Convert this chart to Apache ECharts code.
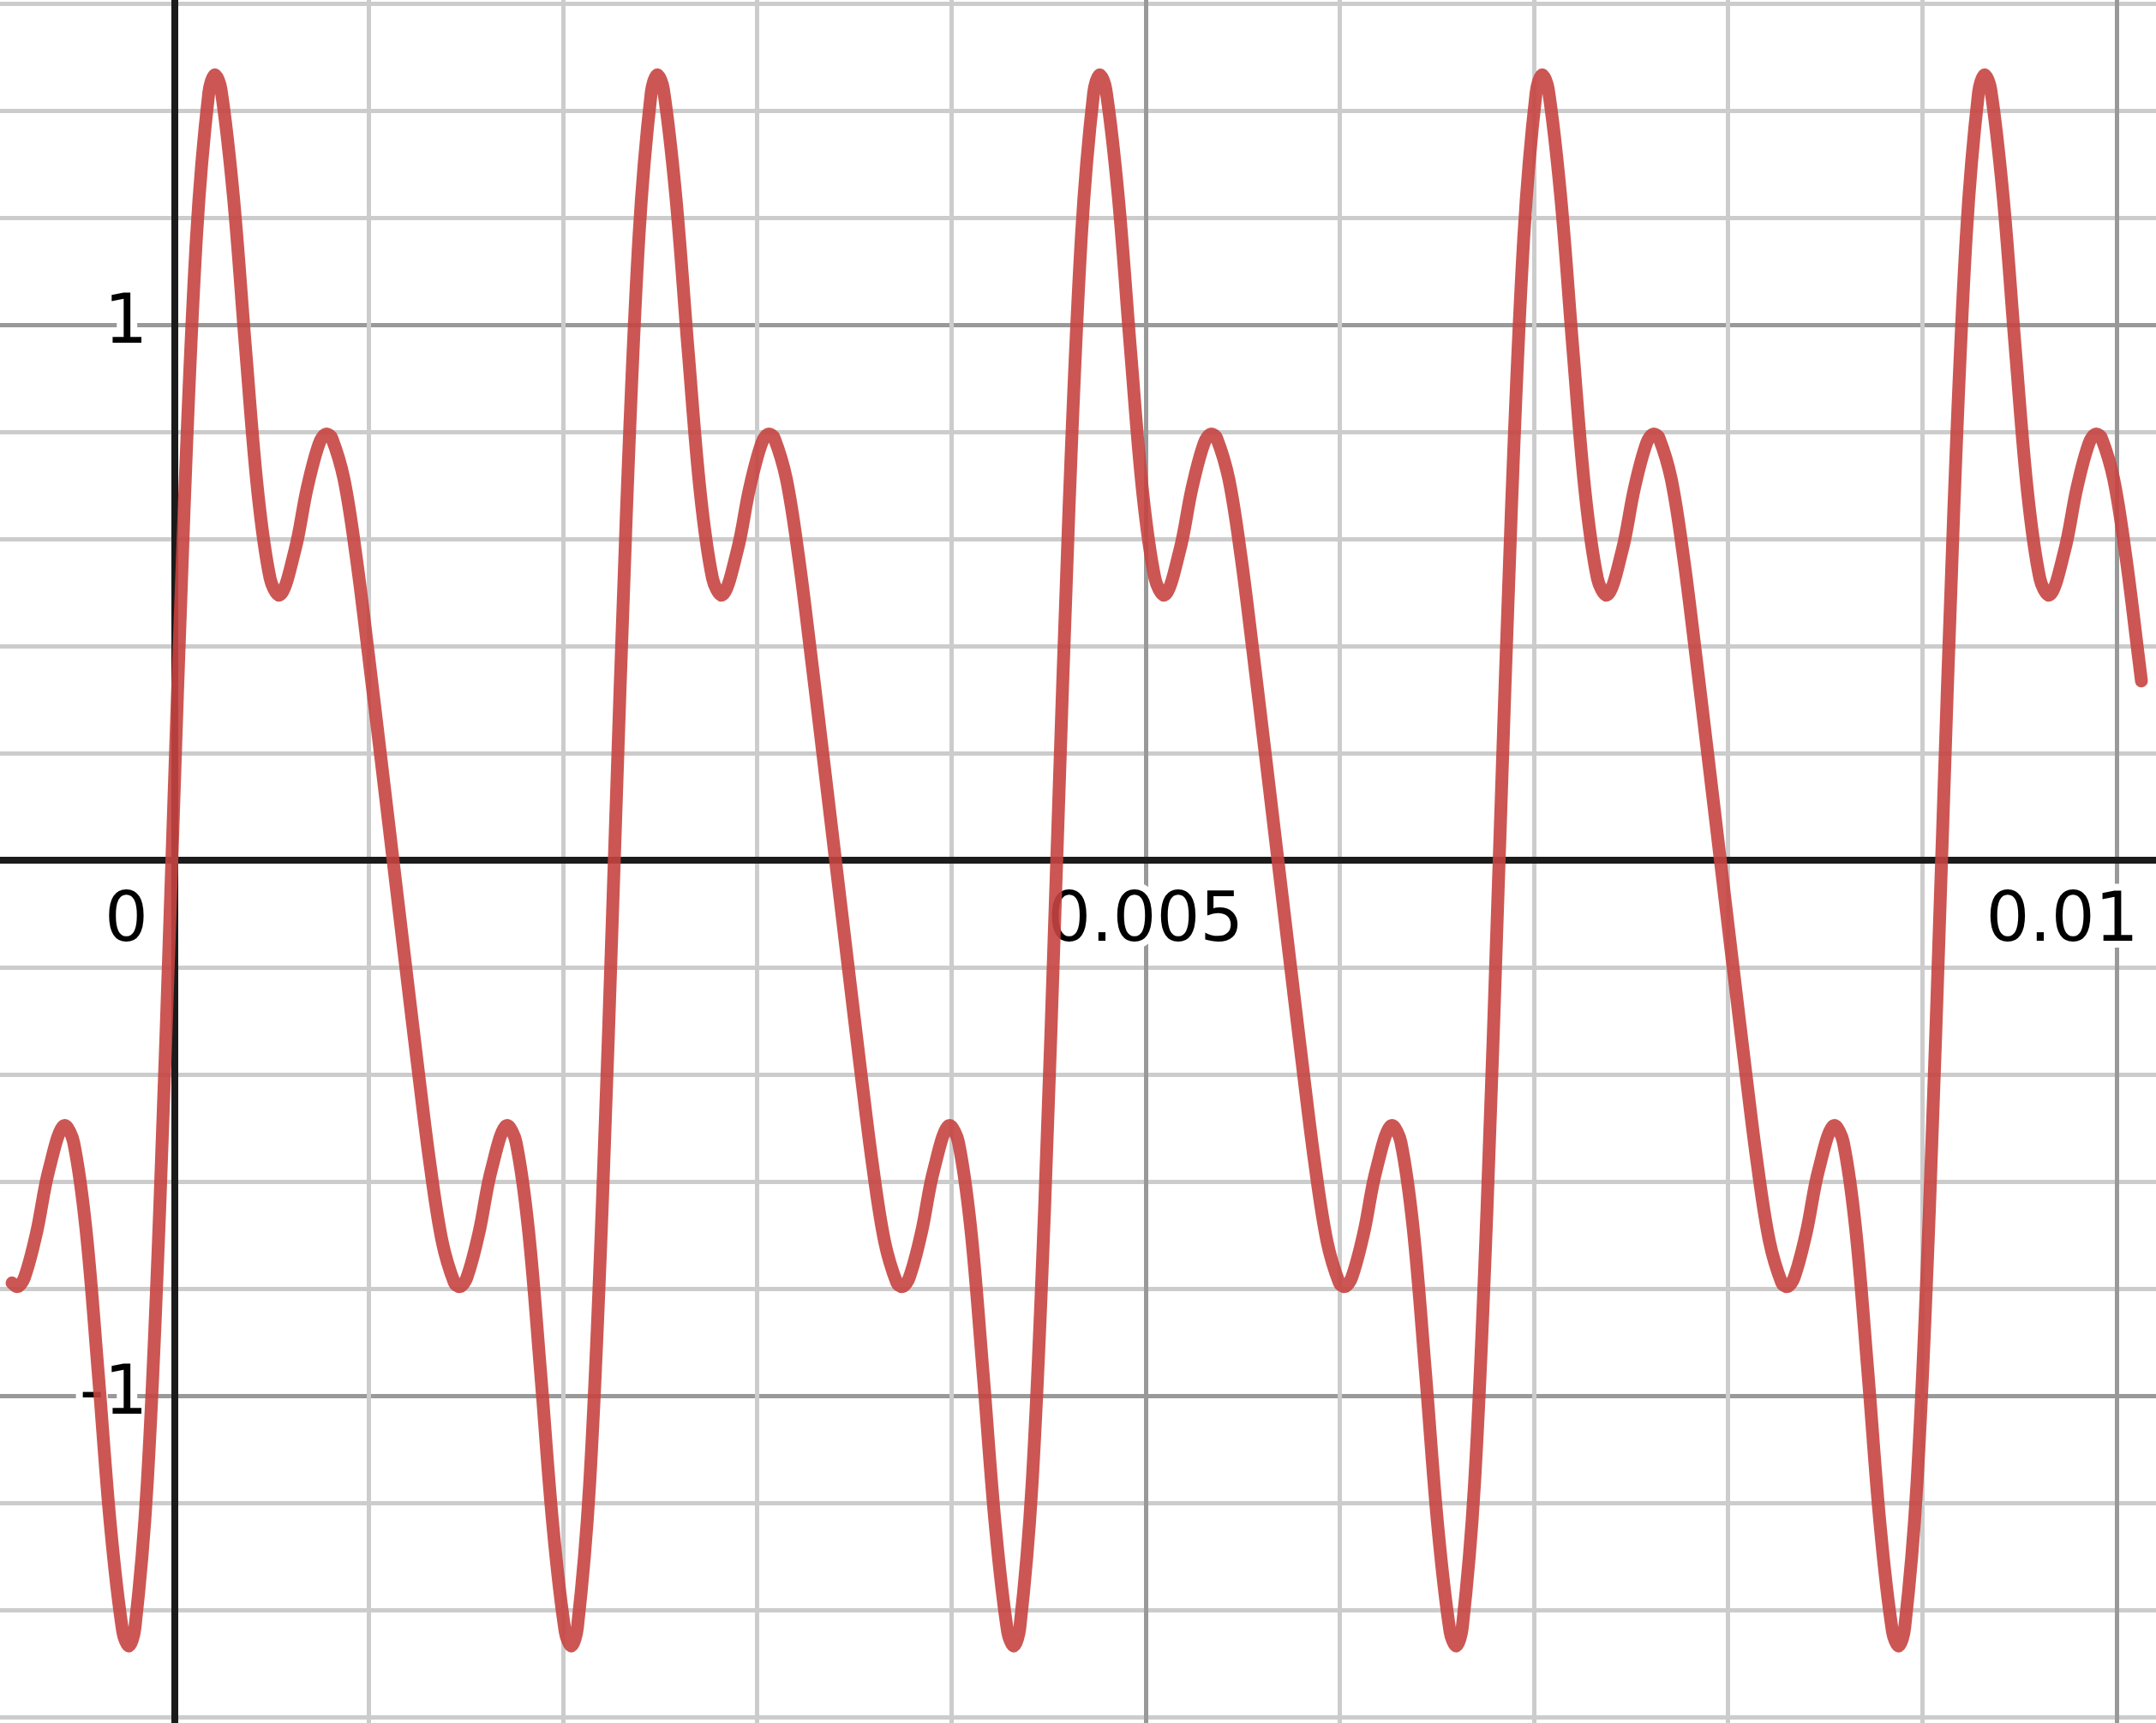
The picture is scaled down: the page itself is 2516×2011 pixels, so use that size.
<!DOCTYPE html>
<html>
<head>
<meta charset="utf-8">
<script src="https://cdn.jsdelivr.net/npm/echarts@6/dist/echarts.min.js"></script>
<style>html,body{margin:0;padding:0;background:#fff;}#c{width:2516px;height:2011px;}</style>
</head>
<body>
<div id="c"></div>
<script>
// Curve samples (time in seconds, amplitude)
const timeSec = [
  -0.000836, -0.000810, -0.000772, -0.000709, -0.000646, -0.000563, -0.000519, -0.000456,
  -0.000393, -0.000329, -0.000266, -0.000234, -0.000203, -0.000140, -0.000076,
  -0.000013, 0.000050, 0.000114, 0.000177, 0.000209, 0.000240, 0.000303, 0.000367, 0.000430, 0.000493,
  0.000538, 0.000620, 0.000683, 0.000746, 0.000784, 0.000810, 0.000873, 0.000936, 0.000999, 0.001063,
  0.001126, 0.001189, 0.001253, 0.001316, 0.001379, 0.001442, 0.001468, 0.001506, 0.001569, 0.001632,
  0.001715, 0.001759, 0.001822, 0.001885, 0.001949, 0.002012, 0.002044, 0.002075, 0.002138, 0.002202,
  0.002265, 0.002328, 0.002392, 0.002455, 0.002487, 0.002518, 0.002581, 0.002645, 0.002708, 0.002771,
  0.002816, 0.002898, 0.002961, 0.003024, 0.003062, 0.003088, 0.003151, 0.003214, 0.003277, 0.003341,
  0.003404, 0.003467, 0.003531, 0.003594, 0.003657, 0.003720, 0.003746, 0.003784, 0.003847, 0.003910,
  0.003993, 0.004037, 0.004100, 0.004163, 0.004227, 0.004290, 0.004322, 0.004353, 0.004416, 0.004480,
  0.004543, 0.004606, 0.004670, 0.004733, 0.004765, 0.004796, 0.004859, 0.004923, 0.004986, 0.005049,
  0.005094, 0.005176, 0.005239, 0.005302, 0.005340, 0.005366, 0.005429, 0.005492, 0.005555, 0.005619,
  0.005682, 0.005745, 0.005809, 0.005872, 0.005935, 0.005998, 0.006024, 0.006062, 0.006125, 0.006188,
  0.006271, 0.006315, 0.006378, 0.006441, 0.006505, 0.006568, 0.006600, 0.006631, 0.006694, 0.006758,
  0.006821, 0.006884, 0.006948, 0.007011, 0.007043, 0.007074, 0.007137, 0.007201, 0.007264, 0.007327,
  0.007372, 0.007454, 0.007517, 0.007580, 0.007618, 0.007644, 0.007707, 0.007770, 0.007833, 0.007897,
  0.007960, 0.008023, 0.008087, 0.008150, 0.008213, 0.008276, 0.008302, 0.008340, 0.008403, 0.008466,
  0.008549, 0.008593, 0.008656, 0.008719, 0.008783, 0.008846, 0.008878, 0.008909, 0.008972, 0.009036,
  0.009099, 0.009162, 0.009226, 0.009289, 0.009321, 0.009352, 0.009415, 0.009479, 0.009542, 0.009605,
  0.009650, 0.009732, 0.009795, 0.009858, 0.009896, 0.009922, 0.009985, 0.010048, 0.010111, 0.010128
];
const amplitude = [
  -0.789, -0.796, -0.779, -0.694, -0.578, -0.495, -0.526, -0.686,
  -0.953, -1.243, -1.440, -1.467, -1.433, -1.165, -0.655,
  0, 0.655, 1.165, 1.433, 1.467, 1.440, 1.243, 0.953, 0.686, 0.526,
  0.495, 0.578, 0.694, 0.779, 0.796, 0.789, 0.712, 0.567, 0.385, 0.192,
  0, -0.192, -0.385, -0.567, -0.712, -0.789, -0.796, -0.779, -0.694, -0.578,
  -0.495, -0.526, -0.686, -0.953, -1.243, -1.440, -1.467, -1.433, -1.165, -0.655,
  0, 0.655, 1.165, 1.433, 1.467, 1.440, 1.243, 0.953, 0.686, 0.526,
  0.495, 0.578, 0.694, 0.779, 0.796, 0.789, 0.712, 0.567, 0.385, 0.192,
  0, -0.192, -0.385, -0.567, -0.712, -0.789, -0.796, -0.779, -0.694, -0.578,
  -0.495, -0.526, -0.686, -0.953, -1.243, -1.440, -1.467, -1.433, -1.165, -0.655,
  0, 0.655, 1.165, 1.433, 1.467, 1.440, 1.243, 0.953, 0.686, 0.526,
  0.495, 0.578, 0.694, 0.779, 0.796, 0.789, 0.712, 0.567, 0.385, 0.192,
  0, -0.192, -0.385, -0.567, -0.712, -0.789, -0.796, -0.779, -0.694, -0.578,
  -0.495, -0.526, -0.686, -0.953, -1.243, -1.440, -1.467, -1.433, -1.165, -0.655,
  0, 0.655, 1.165, 1.433, 1.467, 1.440, 1.243, 0.953, 0.686, 0.526,
  0.495, 0.578, 0.694, 0.779, 0.796, 0.789, 0.712, 0.567, 0.385, 0.192,
  0, -0.192, -0.385, -0.567, -0.712, -0.789, -0.796, -0.779, -0.694, -0.578,
  -0.495, -0.526, -0.686, -0.953, -1.243, -1.440, -1.467, -1.433, -1.165, -0.655,
  0, 0.655, 1.165, 1.433, 1.467, 1.440, 1.243, 0.953, 0.686, 0.526,
  0.495, 0.578, 0.694, 0.779, 0.796, 0.789, 0.712, 0.567, 0.385, 0.335
];
const xTickValues = [0, 0.005, 0.01];
const xTickLabels = ['0', '0.005', '0.01'];
const yTickValues = [-1, 1];
const yTickLabels = ['-1', '1'];

// View window (the axes extend beyond the canvas so that grid lines fall on round values)
const W = 2516, H = 2011;
const ORIGIN_X = 203.5, PX_PER_SEC = 226650;   // where t = 0 sits, scale
const ORIGIN_Y = 1004.15, PX_PER_UNIT = 625.1;  // where amplitude = 0 sits, scale
const X_MIN = -0.005, X_MAX = 0.015, Y_MIN = -2, Y_MAX = 2;
const gridLeft = ORIGIN_X + X_MIN * PX_PER_SEC;
const gridRightEdge = ORIGIN_X + X_MAX * PX_PER_SEC;
const gridTop = ORIGIN_Y - Y_MAX * PX_PER_UNIT;
const gridBottomEdge = ORIGIN_Y - Y_MIN * PX_PER_UNIT;

const FONT = 'DejaVu Sans';
const labelText = { fontFamily: FONT, fontSize: 80, color: '#000', textBorderColor: '#fff', textBorderWidth: 16 };
const near = (a, b) => Math.abs(a - b) < 1e-9;

const n = Math.min(timeSec.length, amplitude.length);
const curve = [];
for (let i = 0; i < n; i++) curve.push([timeSec[i], amplitude[i]]);

const hiddenAxisLine = { show: true, onZero: false, lineStyle: { color: '#ffffff', width: 1, opacity: 0 } };

const chart = echarts.init(document.getElementById('c'), null, { renderer: 'canvas', width: W, height: H });
chart.setOption({
  animation: false,
  backgroundColor: '#ffffff',
  grid: { left: gridLeft, right: W - gridRightEdge, top: gridTop, bottom: H - gridBottomEdge, containLabel: false, outerBoundsMode: 'none' },
  xAxis: {
    type: 'value', min: X_MIN, max: X_MAX, interval: 0.005,
    position: 'bottom',
    offset: ORIGIN_Y - gridBottomEdge,
    axisLine: hiddenAxisLine,
    axisTick: { show: false },
    minorTick: { show: false, splitNumber: 5 },
    splitLine: { show: true, lineStyle: { color: '#999999', width: 5 } },
    minorSplitLine: { show: true, lineStyle: { color: '#cccccc', width: 5 } },
    axisLabel: Object.assign({}, labelText, {
      margin: 33,
      hideOverlap: false,
      formatter: function (v) {
        const i = xTickValues.findIndex(t => near(t, v));
        if (i < 0) return '';
        const key = i === 0 ? 'l' : (i === xTickValues.length - 1 ? 'r' : 'c');
        return '{' + key + '|' + xTickLabels[i] + '}';
      },
      rich: {
        l: Object.assign({}, labelText, { padding: [0, 112, 0, 0] }),
        c: Object.assign({}, labelText),
        r: Object.assign({}, labelText, { padding: [0, 127, 0, 0] })
      }
    })
  },
  yAxis: {
    type: 'value', min: Y_MIN, max: Y_MAX, interval: 1,
    position: 'left',
    offset: gridLeft - ORIGIN_X,
    axisLine: hiddenAxisLine,
    axisTick: { show: false },
    minorTick: { show: false, splitNumber: 5 },
    splitLine: { show: true, lineStyle: { color: '#999999', width: 5 } },
    minorSplitLine: { show: true, lineStyle: { color: '#cccccc', width: 5 } },
    axisLabel: Object.assign({}, labelText, {
      margin: 31,
      hideOverlap: false,
      formatter: function (v) {
        const i = yTickValues.findIndex(t => near(t, v));
        return i < 0 ? '' : yTickLabels[i];
      }
    })
  },
  series: [{
    type: 'line',
    data: curve,
    smooth: 0.35,
    showSymbol: false,
    symbol: 'none',
    z: 10,
    clip: false,
    silent: true,
    lineStyle: { color: '#c74440', width: 15, opacity: 0.9, cap: 'round', join: 'round' },
    markLine: {
      silent: true,
      z: 5,
      animation: false,
      symbol: ['none', 'none'],
      label: { show: false },
      emphasis: { disabled: true },
      lineStyle: { color: '#1b1b1b', width: 8, type: 'solid', opacity: 1 },
      data: [{ xAxis: 0 }, { yAxis: 0 }]
    }
  }]
});
</script>
</body>
</html>
